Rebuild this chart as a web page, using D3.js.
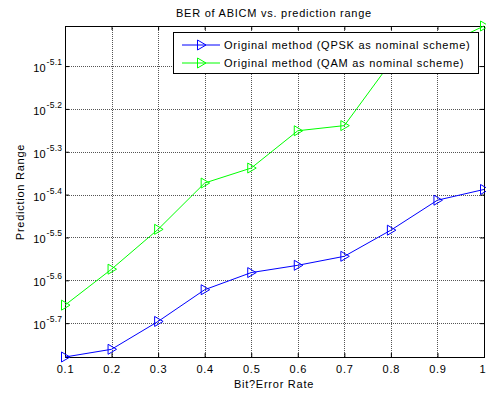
<!DOCTYPE html>
<html>
<head>
<meta charset="utf-8">
<script src="https://cdn.jsdelivr.net/npm/d3@7"></script>
<style>
  html, body { margin: 0; padding: 0; background: #fff; }
  svg { display: block; font-family: "Liberation Sans", Arial, sans-serif; }
  svg text { letter-spacing: 0.75px; }
</style>
</head>
<body>
<svg id="chart" width="486" height="394"></svg>
<script>
// Bit error rate (x) and log10 of the prediction range (y) for each scheme
const berValues = [0.1, 0.2, 0.3, 0.4, 0.5, 0.6, 0.7, 0.8, 0.9, 1.0];
const qpskLog = [-5.779, -5.761, -5.696, -5.622, -5.582, -5.565, -5.544, -5.483, -5.413, -5.388];
const qamLog  = [-5.658, -5.574, -5.481, -5.373, -5.338, -5.251, -5.239, -5.091, -5.058, -5.0065];
const xTicks = [0.1, 0.2, 0.3, 0.4, 0.5, 0.6, 0.7, 0.8, 0.9, 1];
const yTickExps = [-5.7, -5.6, -5.5, -5.4, -5.3, -5.2, -5.1];
const seriesNames = ["Original method (QPSK as nominal scheme)", "Original method (QAM as nominal scheme)"];
const seriesColors = ["#0000ff", "#00ff00"];

const svg = d3.select("#chart");
const m = { left: 65, right: 484, top: 26, bottom: 357 };

const x = d3.scaleLinear().domain([0.1, 1]).range([m.left, m.right]);
const allLog = qpskLog.concat(qamLog);
const y = d3.scaleLog()
  .domain([Math.pow(10, d3.min(allLog)), Math.pow(10, d3.max(allLog))])
  .range([m.bottom, m.top]);

const series = [qpskLog, qamLog].map((vals, i) => ({
  name: seriesNames[i],
  color: seriesColors[i],
  points: berValues.map((b, j) => ({ x: b, y: Math.pow(10, vals[j]) }))
}));

// dotted grid
const grid = svg.append("g").attr("stroke", "#555").attr("stroke-width", 1)
  .attr("stroke-dasharray", "1,1");
grid.selectAll("line.vx").data(xTicks.slice(1, -1)).join("line")
  .attr("x1", d => Math.round(x(d)) + 0.5).attr("x2", d => Math.round(x(d)) + 0.5)
  .attr("y1", m.top).attr("y2", m.bottom);
grid.selectAll("line.hy").data(yTickExps).join("line")
  .attr("y1", d => Math.round(y(Math.pow(10, d))) + 0.5).attr("y2", d => Math.round(y(Math.pow(10, d))) + 0.5)
  .attr("x1", m.left).attr("x2", m.right);

// axes with inward ticks
const xAxis = d3.axisBottom(x).tickValues(xTicks).tickSize(-4).tickPadding(8)
  .tickFormat(d => d === 1 ? "1" : d3.format(".1f")(d));
const gx = svg.append("g").attr("transform", `translate(0,${m.bottom})`).call(xAxis);
gx.select(".domain").remove();
gx.selectAll("text").attr("font-size", 11).attr("fill", "#000")
  .attr("font-family", "Liberation Sans, Arial, sans-serif");
gx.selectAll("text").filter(d => d === 1).attr("text-anchor", "end").attr("dx", 1)
  .style("letter-spacing", "0px");

const gxTop = svg.append("g").attr("transform", `translate(0,${m.top})`)
  .call(d3.axisTop(x).tickValues(xTicks).tickSize(-4).tickFormat(""));
gxTop.select(".domain").remove();

const yAxis = d3.axisLeft(y).tickValues(yTickExps.map(e => Math.pow(10, e))).tickSize(-4).tickFormat("");
const gy = svg.append("g").attr("transform", `translate(${m.left},0)`).call(yAxis);
gy.select(".domain").remove();
const gyR = svg.append("g").attr("transform", `translate(${m.right},0)`)
  .call(d3.axisRight(y).tickValues(yTickExps.map(e => Math.pow(10, e))).tickSize(-4).tickFormat(""));
gyR.select(".domain").remove();

// y tick labels: 10 with superscript exponent
const yLab = svg.append("g").attr("font-size", 11).attr("fill", "#000");
yTickExps.forEach(e => {
  const yy = y(Math.pow(10, e));
  yLab.append("text").attr("x", 46).attr("y", yy + 6).attr("text-anchor", "end")
    .style("letter-spacing", "0.3px").text("10");
  yLab.append("text").attr("x", 46.5).attr("y", yy - 1).attr("font-size", 8.5)
    .style("letter-spacing", "0.3px").text(String(e));
});

// plot box
svg.append("rect").attr("x", m.left + 0.5).attr("y", m.top + 0.5)
  .attr("width", m.right - m.left).attr("height", m.bottom - m.top)
  .attr("fill", "none").attr("stroke", "#000").attr("stroke-width", 1);

// series lines and right-pointing triangle markers
const line = d3.line().x(d => x(d.x)).y(d => y(d.y));
const tri = "M-3.5,-5L5,0L-3.5,5Z";
series.forEach(s => {
  svg.append("path").datum(s.points).attr("d", line)
    .attr("fill", "none").attr("stroke", s.color).attr("stroke-width", 1);
  svg.append("g").selectAll("path").data(s.points).join("path")
    .attr("d", tri)
    .attr("transform", d => `translate(${x(d.x)},${y(d.y)})`)
    .attr("fill", "none").attr("stroke", s.color).attr("stroke-width", 1);
});

// title and axis labels
svg.append("text").attr("x", 274).attr("y", 17).attr("text-anchor", "middle")
  .attr("font-size", 11).text("BER of ABICM vs. prediction range");
svg.append("text").attr("x", 274).attr("y", 388).attr("text-anchor", "middle")
  .attr("font-size", 11).text("Bit?Error Rate");
svg.append("text").attr("transform", "translate(24,192) rotate(-90)").attr("text-anchor", "middle")
  .attr("font-size", 11).text("Prediction Range");

// legend
const lg = svg.append("g");
lg.append("rect").attr("x", 173.5).attr("y", 32.5).attr("width", 305).attr("height", 41)
  .attr("fill", "#fff").attr("stroke", "#000").attr("stroke-width", 1);
series.forEach((s, i) => {
  const ly = 45 + i * 18;
  lg.append("line").attr("x1", 182).attr("x2", 220).attr("y1", ly).attr("y2", ly)
    .attr("stroke", s.color).attr("stroke-width", 1);
  lg.append("path").attr("d", tri).attr("transform", `translate(201,${ly})`)
    .attr("fill", "none").attr("stroke", s.color);
  lg.append("text").attr("x", 224).attr("y", ly + 4).attr("font-size", 11).text(s.name);
});
</script>
</body>
</html>
